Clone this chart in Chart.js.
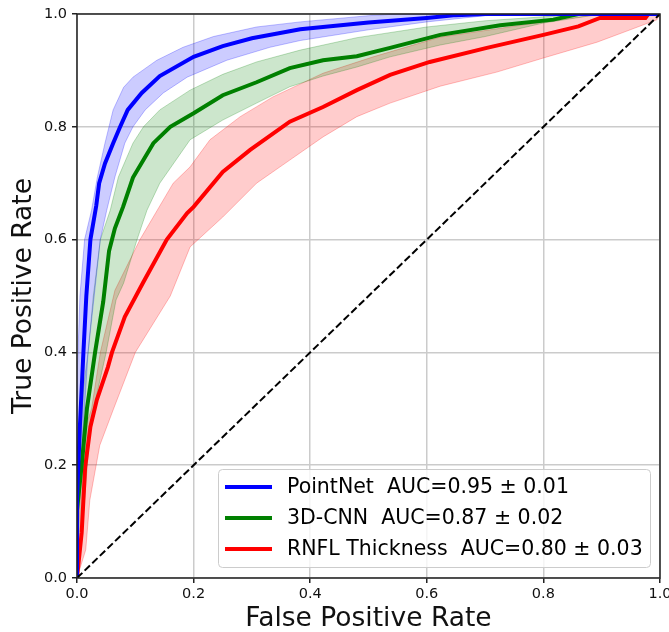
<!DOCTYPE html>
<html>
<head>
<meta charset="utf-8">
<script src="https://cdn.jsdelivr.net/npm/chart.js@4.4.1/dist/chart.umd.min.js"></script>
<style>
  html, body { margin: 0; padding: 0; background: #fff; }
  #wrap { width: 669px; height: 632px; position: relative; }
</style>
</head>
<body>
<div id="wrap"><canvas id="rocChart"></canvas></div>
<script>
// Courbes ROC : [FPR, TPR]
const modelNames = ['PointNet', '3D-CNN', 'RNFL Thickness'];
const aucMeans = [0.95, 0.87, 0.80];
const aucStds = [0.01, 0.02, 0.03];
const axisTicks = [0, 0.2, 0.4, 0.6, 0.8, 1.0];

const pointNetMean = [[0,0],[0,0.14],[0.005,0.27],[0.011,0.40],[0.016,0.50],[0.023,0.60],[0.033,0.66],[0.038,0.70],[0.048,0.735],[0.062,0.771],[0.074,0.80],[0.087,0.83],[0.111,0.86],[0.142,0.89],[0.2,0.924],[0.25,0.943],[0.3,0.957],[0.383,0.973],[0.5,0.985],[0.6,0.993],[0.65,0.998],[0.7,1],[1,1]];
const pointNetUpper = [[0,0],[0,0.35],[0.005,0.5],[0.013,0.6],[0.025,0.652],[0.035,0.711],[0.048,0.771],[0.062,0.83],[0.08,0.87],[0.096,0.888],[0.137,0.918],[0.182,0.941],[0.234,0.96],[0.308,0.977],[0.383,0.986],[0.5,0.997],[0.55,1],[1,1]];
const pointNetLower = [[0,0],[0.003,0.14],[0.019,0.40],[0.04,0.6],[0.051,0.652],[0.065,0.711],[0.082,0.771],[0.096,0.80],[0.117,0.83],[0.148,0.86],[0.189,0.888],[0.257,0.918],[0.331,0.941],[0.383,0.953],[0.5,0.972],[0.6,0.986],[0.7,0.997],[0.75,1],[1,1]];

const cnnMean = [[0,0],[0,0.12],[0.008,0.2],[0.017,0.30],[0.031,0.40],[0.045,0.49],[0.055,0.58],[0.065,0.62],[0.079,0.658],[0.096,0.71],[0.131,0.771],[0.16,0.80],[0.2,0.824],[0.25,0.856],[0.308,0.879],[0.365,0.904],[0.422,0.918],[0.48,0.925],[0.537,0.94],[0.623,0.963],[0.726,0.98],[0.817,0.99],[0.86,1],[1,1]];
const cnnUpper = [[0,0],[0,0.2],[0.01,0.33],[0.019,0.40],[0.028,0.5],[0.04,0.6],[0.057,0.652],[0.071,0.711],[0.096,0.771],[0.114,0.80],[0.142,0.83],[0.194,0.865],[0.25,0.893],[0.308,0.915],[0.383,0.936],[0.48,0.958],[0.6,0.977],[0.7,0.988],[0.8,0.995],[0.86,1],[1,1]];
const cnnLower = [[0,0],[0.01,0.1],[0.022,0.257],[0.035,0.33],[0.05,0.40],[0.067,0.493],[0.08,0.523],[0.103,0.6],[0.12,0.652],[0.142,0.70],[0.194,0.777],[0.25,0.812],[0.308,0.842],[0.365,0.871],[0.422,0.89],[0.48,0.906],[0.537,0.924],[0.623,0.945],[0.7,0.96],[0.8,0.984],[0.9,1],[1,1]];

const rnflMean = [[0,0],[0.008,0.08],[0.014,0.197],[0.023,0.268],[0.034,0.316],[0.053,0.374],[0.06,0.40],[0.082,0.463],[0.113,0.523],[0.154,0.60],[0.189,0.647],[0.2,0.658],[0.25,0.72],[0.297,0.759],[0.365,0.809],[0.422,0.835],[0.48,0.865],[0.537,0.892],[0.605,0.915],[0.703,0.94],[0.8,0.963],[0.86,0.978],[0.897,0.993],[0.975,0.993],[0.98,1],[1,1]];
const rnflUpper = [[0,0],[0,0.05],[0.005,0.14],[0.011,0.257],[0.025,0.3],[0.04,0.4],[0.065,0.51],[0.108,0.6],[0.165,0.7],[0.194,0.729],[0.228,0.777],[0.28,0.818],[0.336,0.853],[0.422,0.895],[0.508,0.924],[0.623,0.959],[0.8,0.986],[0.9,1],[1,1]];
const rnflLower = [[0,0],[0.015,0.05],[0.022,0.138],[0.039,0.235],[0.062,0.298],[0.1,0.40],[0.16,0.50],[0.194,0.587],[0.25,0.64],[0.308,0.70],[0.365,0.741],[0.422,0.782],[0.48,0.818],[0.537,0.842],[0.623,0.872],[0.72,0.897],[0.8,0.922],[0.892,0.95],[0.949,0.972],[0.995,0.99],[1,1]];

const chanceLine = [[0,0],[1,1]];

const FONT = "'DejaVu Sans', sans-serif";
const toXY = arr => arr.map(p => ({x: p[0], y: p[1]}));

function meanSet(label, pts, color) {
    return { label: label, data: toXY(pts), borderColor: color, borderWidth: 4,
             pointRadius: 0, fill: false, clip: 0, tension: 0 };
}
function bandSet(pts, rgb, fillTarget) {
    return { label: '', data: toXY(pts), borderColor: `rgba(${rgb},0.25)`, borderWidth: 1,
             backgroundColor: `rgba(${rgb},0.2)`, pointRadius: 0, clip: 0,
             fill: fillTarget === null ? false : {target: fillTarget} };
}

const labels = modelNames.map((n, i) => `${n}  AUC=${aucMeans[i].toFixed(2)} \u00b1 ${aucStds[i].toFixed(2)}`);
const colors = ['rgb(0,0,255)', 'rgb(0,128,0)', 'rgb(255,0,0)'];

const datasets = [
    { label: 'chance', data: toXY(chanceLine), borderColor: '#000', borderWidth: 2,
      borderDash: [7.4, 3.2], pointRadius: 0, fill: false, clip: 0 },
    meanSet(labels[0], pointNetMean, colors[0]),
    meanSet(labels[1], cnnMean, colors[1]),
    meanSet(labels[2], rnflMean, colors[2]),
    bandSet(pointNetUpper, '0,0,255', null),
    bandSet(pointNetLower, '0,0,255', 4),
    bandSet(cnnUpper, '0,128,0', null),
    bandSet(cnnLower, '0,128,0', 6),
    bandSet(rnflUpper, '255,0,0', null),
    bandSet(rnflLower, '255,0,0', 8)
];

// Cadre + légende dessinés à la main (style matplotlib)
const framePlugin = {
    id: 'frameLegend',
    afterDraw(chart) {
        const ctx = chart.ctx;
        const a = chart.chartArea;
        ctx.save();
        ctx.strokeStyle = '#222';
        ctx.lineWidth = 1.5;
        ctx.strokeRect(a.left, a.top, a.right - a.left, a.bottom - a.top);

        // légende en bas à droite
        const bx = 218.5, by = 469.5, bw = 432, bh = 98, r = 4;
        ctx.beginPath();
        ctx.moveTo(bx + r, by);
        ctx.arcTo(bx + bw, by, bx + bw, by + bh, r);
        ctx.arcTo(bx + bw, by + bh, bx, by + bh, r);
        ctx.arcTo(bx, by + bh, bx, by, r);
        ctx.arcTo(bx, by, bx + bw, by, r);
        ctx.closePath();
        ctx.fillStyle = 'rgba(255,255,255,0.8)';
        ctx.fill();
        ctx.strokeStyle = '#cccccc';
        ctx.lineWidth = 1;
        ctx.stroke();

        ctx.font = `20.5px ${FONT}`;
        ctx.textBaseline = 'middle';
        ctx.fillStyle = '#000';
        labels.forEach((txt, i) => {
            const yy = 487 + i * 31;
            ctx.beginPath();
            ctx.strokeStyle = colors[i];
            ctx.lineWidth = 4;
            ctx.moveTo(225, yy);
            ctx.lineTo(272, yy);
            ctx.stroke();
            ctx.fillText(txt, 287, yy + 1);
        });
        ctx.restore();
    }
};

function fixX(scale) { scale.height = 54; scale.paddingLeft = 0; scale.paddingRight = 0; }
function fixY(scale) { scale.width = 77; scale.paddingTop = 0; scale.paddingBottom = 0; }

new Chart(document.getElementById('rocChart'), {
    type: 'line',
    data: { datasets: datasets },
    options: {
        responsive: true,
        maintainAspectRatio: false,
        animation: false,
        layout: { padding: { top: 14, right: 9, bottom: 0, left: 0 } },
        plugins: { legend: { display: false }, tooltip: { enabled: false } },
        scales: {
            x: {
                type: 'linear', min: 0, max: 1,
                afterFit: fixX,
                afterBuildTicks: s => { s.ticks = axisTicks.map(v => ({value: v})); },
                grid: { color: '#cbcbcb', lineWidth: 1.5, tickLength: 5, tickColor: '#222', drawTicks: true },
                border: { display: false },
                ticks: { font: { family: FONT, size: 14.5 }, color: '#111', padding: 3, maxRotation: 0,
                         callback: v => v.toFixed(1) },
                title: { display: true, text: 'False Positive Rate', color: '#111',
                         font: { family: FONT, size: 26.5, lineHeight: 1 }, padding: { top: 0, bottom: 0 } }
            },
            y: {
                type: 'linear', min: 0, max: 1,
                afterFit: fixY,
                afterBuildTicks: s => { s.ticks = axisTicks.map(v => ({value: v})); },
                grid: { color: '#cbcbcb', lineWidth: 1.5, tickLength: 5, tickColor: '#222', drawTicks: true },
                border: { display: false },
                ticks: { font: { family: FONT, size: 14.5 }, color: '#111', padding: 5,
                         callback: v => v.toFixed(1) },
                title: { display: true, text: 'True Positive Rate', color: '#111',
                         font: { family: FONT, size: 26.5, lineHeight: 1 }, padding: { top: 11, bottom: 0 } }
            }
        }
    },
    plugins: [framePlugin]
});
</script>
</body>
</html>
